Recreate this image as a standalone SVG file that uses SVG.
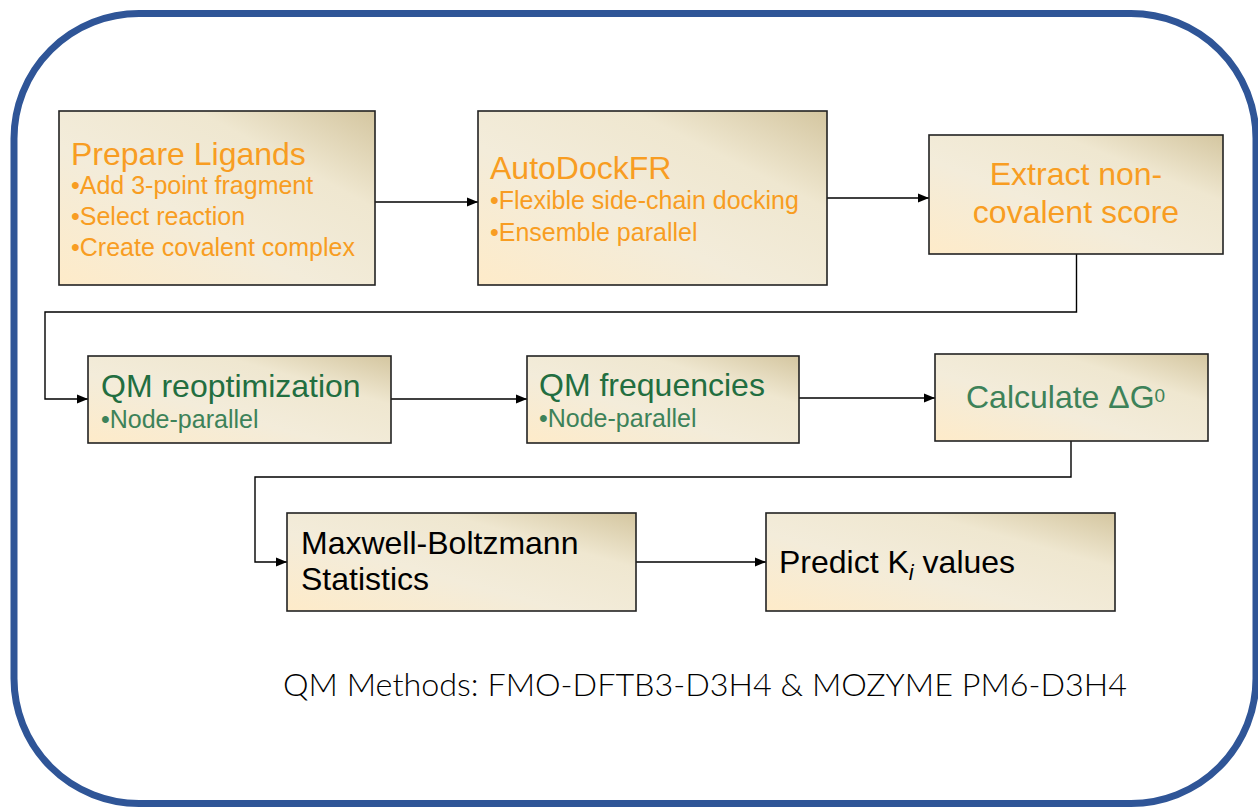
<svg xmlns="http://www.w3.org/2000/svg" width="1258" height="807" viewBox="0 0 1258 807">
<defs>
<linearGradient id="parch" x1="0" y1="1" x2="1" y2="0">
<stop offset="0" stop-color="#FEEBC9"/>
<stop offset="0.4" stop-color="#F3ECDA"/>
<stop offset="0.72" stop-color="#EFE7D0"/>
<stop offset="1" stop-color="#D4C6A0"/>
</linearGradient>
<marker id="arr" viewBox="0 0 11 10" refX="11" refY="5" markerWidth="11" markerHeight="10" markerUnits="userSpaceOnUse" orient="auto">
<path d="M0,0.5 L11,5 L0,9.5 Z" fill="#000"/>
</marker>
</defs>
<style>
.box{fill:url(#parch);stroke:#222;stroke-width:1.6}
.t{font-family:"Liberation Sans",Arial,sans-serif}
.or{fill:#F89D22}
.gt{fill:#226E40}
.gb{fill:#3D8259}
.bk{fill:#000}
.ttl{font-size:32px}
.bul{font-size:25px}
.conn{fill:none;stroke:#000;stroke-width:1.4}
</style>
<rect x="14" y="13.5" width="1242" height="790" rx="125" ry="125" fill="#fff" stroke="#2F5597" stroke-width="7"/>
<g id="connectors">
<path class="conn" d="M375,202 H478" marker-end="url(#arr)"/>
<path class="conn" d="M827,198 H929" marker-end="url(#arr)"/>
<path class="conn" d="M1076.5,254 V312 H45 V399 H88" marker-end="url(#arr)"/>
<path class="conn" d="M391,399 H527" marker-end="url(#arr)"/>
<path class="conn" d="M799,398 H935" marker-end="url(#arr)"/>
<path class="conn" d="M1071,441 V477 H255 V562 H287" marker-end="url(#arr)"/>
<path class="conn" d="M636,562 H766" marker-end="url(#arr)"/>
</g>
<g id="prepare-ligands">
<rect class="box" x="59" y="111" width="316" height="174"/>
<text class="t or ttl" x="71" y="165">Prepare Ligands</text>
<text class="t or bul" x="71" y="194">•Add 3-point fragment</text>
<text class="t or bul" x="71" y="225">•Select reaction</text>
<text class="t or bul" x="71" y="256">•Create covalent complex</text>
</g>
<g id="autodockfr">
<rect class="box" x="478" y="111" width="349" height="174"/>
<text class="t or ttl" x="490" y="179">AutoDockFR</text>
<text class="t or bul" x="490" y="209">•Flexible side-chain docking</text>
<text class="t or bul" x="490" y="241">•Ensemble parallel</text>
</g>
<g id="extract-score">
<rect class="box" x="929" y="135" width="294" height="119"/>
<text class="t or ttl" x="1076" y="185" text-anchor="middle">Extract non-</text>
<text class="t or ttl" x="1076" y="223" text-anchor="middle">covalent score</text>
</g>
<g id="qm-reoptimization">
<rect class="box" x="88" y="356" width="303" height="87"/>
<text class="t gt ttl" x="101" y="397">QM reoptimization</text>
<text class="t gb bul" x="101" y="428">•Node-parallel</text>
</g>
<g id="qm-frequencies">
<rect class="box" x="527" y="356" width="272" height="87"/>
<text class="t gt ttl" x="539" y="396">QM frequencies</text>
<text class="t gb bul" x="539" y="427">•Node-parallel</text>
</g>
<g id="calculate-dg">
<rect class="box" x="935" y="354" width="273" height="87"/>
<text class="t gb ttl" x="966" y="408">Calculate ΔG<tspan font-size="19" dy="-6">0</tspan></text>
</g>
<g id="maxwell-boltzmann">
<rect class="box" x="287" y="513" width="349" height="98"/>
<text class="t bk ttl" x="301" y="554">Maxwell-Boltzmann</text>
<text class="t bk ttl" x="301" y="590">Statistics</text>
</g>
<g id="predict-ki">
<rect class="box" x="766" y="513" width="349" height="98"/>
<text class="t bk ttl" x="779" y="573">Predict K<tspan font-size="22" font-style="italic" dy="7">i</tspan><tspan dy="-7"> values</tspan></text>
</g>
<text x="283" y="696" font-family="Lato,'Liberation Sans',sans-serif" font-weight="300" font-size="31" fill="#000" textLength="844" lengthAdjust="spacingAndGlyphs">QM Methods: FMO-DFTB3-D3H4 &amp; MOZYME PM6-D3H4</text>
</svg>
